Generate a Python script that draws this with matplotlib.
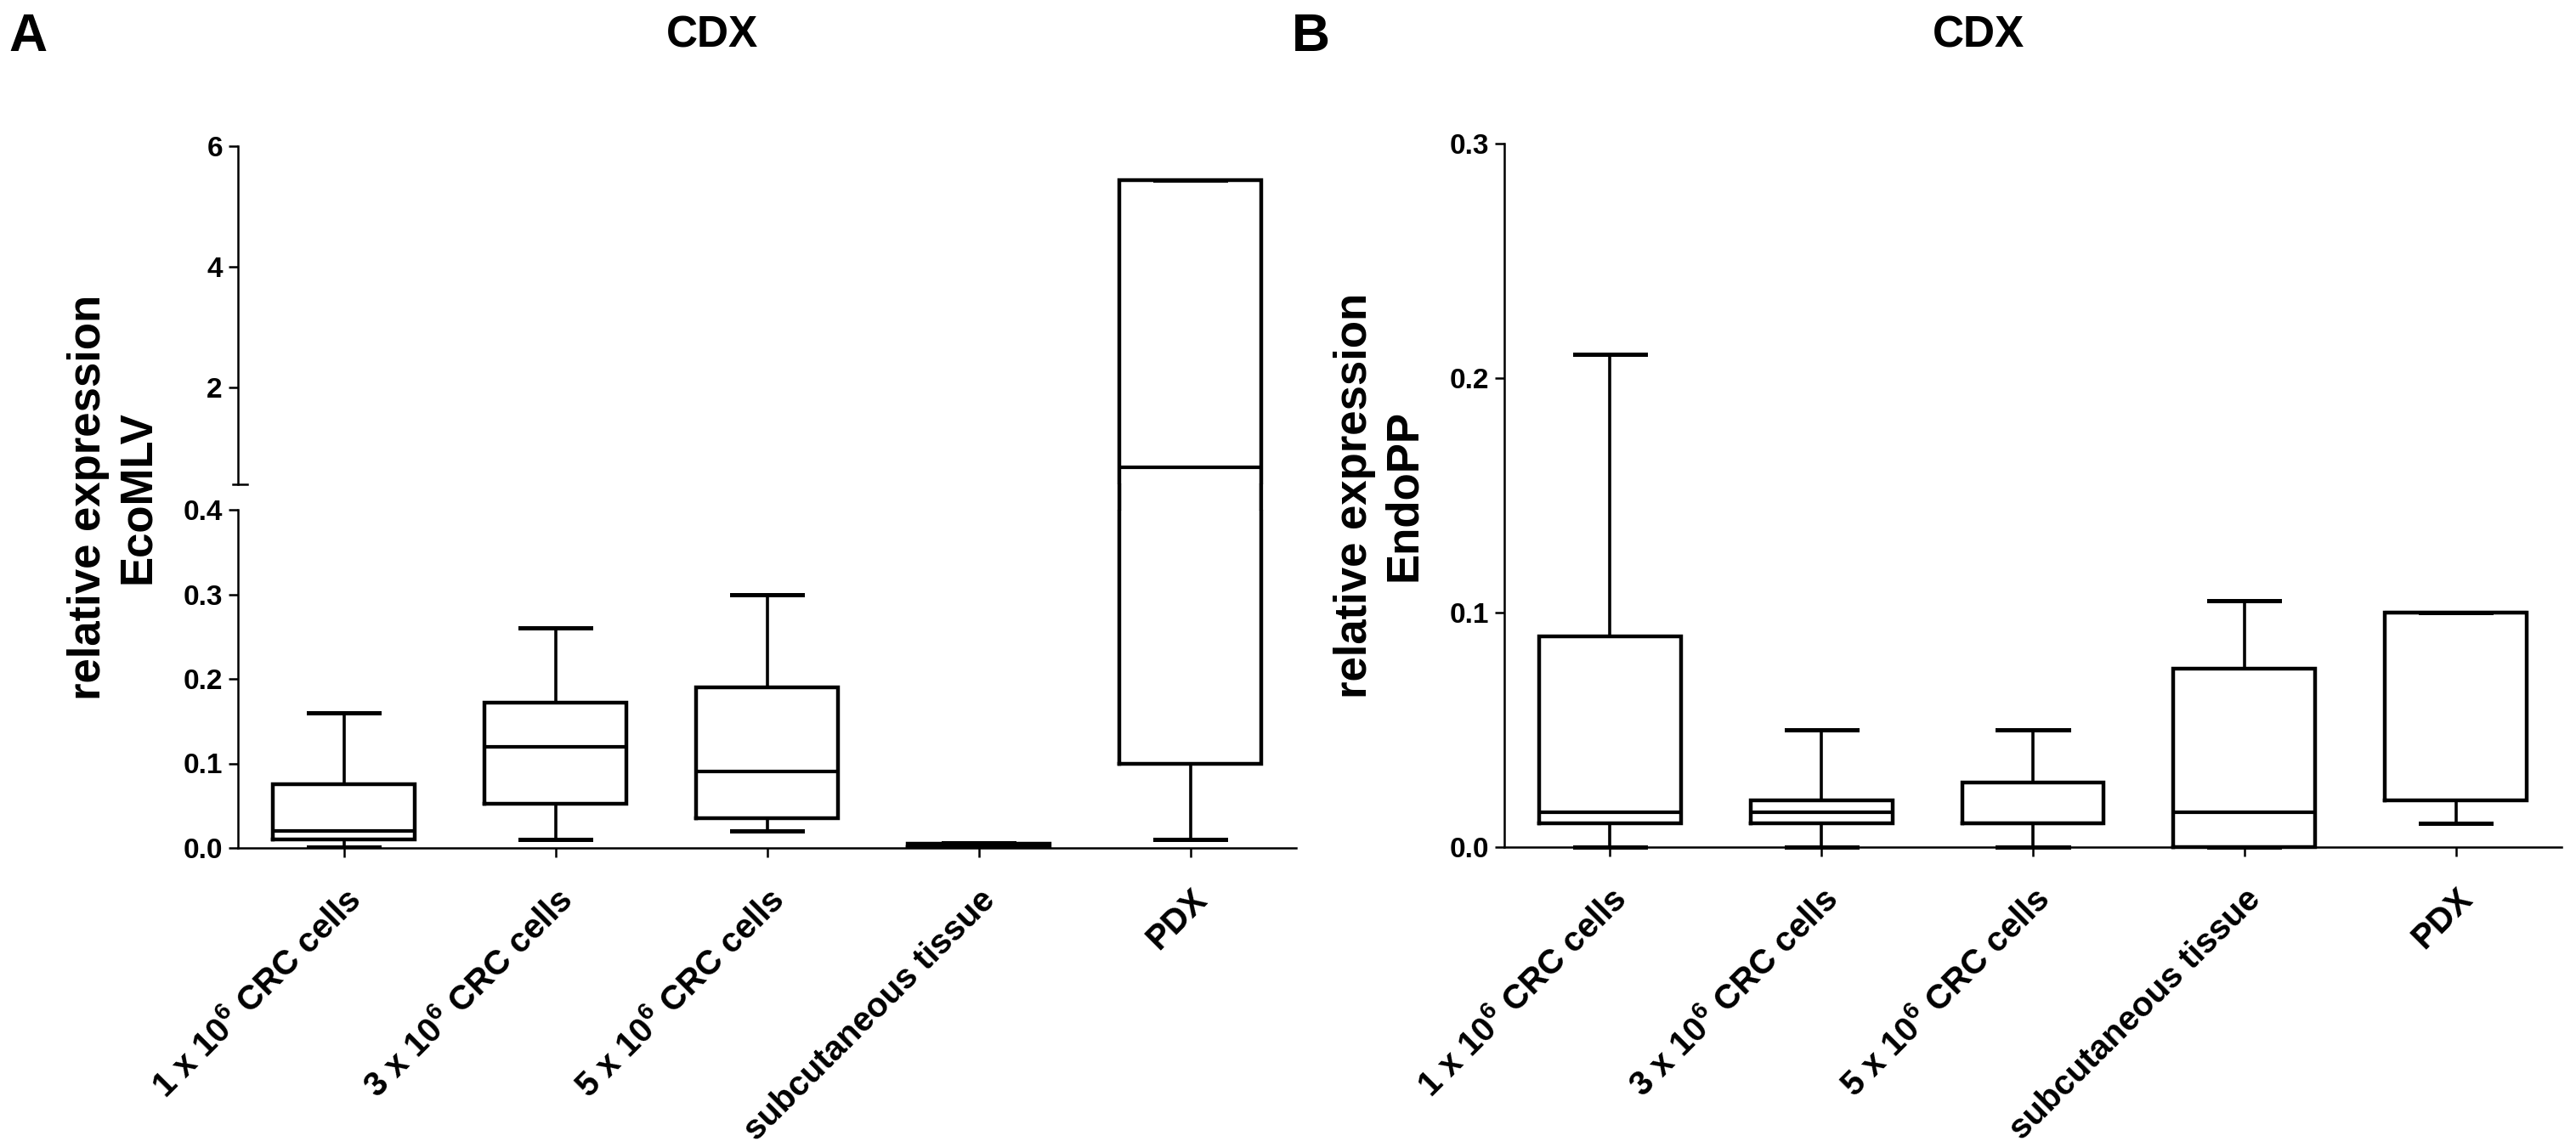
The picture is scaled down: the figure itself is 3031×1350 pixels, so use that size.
import matplotlib
matplotlib.use("Agg")
import matplotlib.pyplot as plt
from matplotlib.patches import ConnectionPatch
from matplotlib.ticker import FormatStrFormatter

plt.rcParams['font.family'] = ['Liberation Sans', 'DejaVu Sans']
plt.rcParams['font.weight'] = 'bold'
plt.rcParams['mathtext.default'] = 'regular'

# categories shared by both panels
groups = ['1 x 10$^{6}$ CRC cells', '3 x 10$^{6}$ CRC cells', '5 x 10$^{6}$ CRC cells',
          'subcutaneous tissue', 'PDX']

# panel A: EcoMLV (min, q1, median, q3, max)
eco_min = [0.001, 0.010, 0.020, 0.000, 0.010]
eco_q1 = [0.010, 0.052, 0.035, 0.001, 0.100]
eco_med = [0.020, 0.120, 0.090, 0.003, 0.680]
eco_q3 = [0.075, 0.172, 0.190, 0.005, 5.440]
eco_max = [0.160, 0.260, 0.300, 0.006, 5.440]

# panel B: EndoPP
endo_min = [0.000, 0.000, 0.000, 0.000, 0.010]
endo_q1 = [0.010, 0.010, 0.010, 0.000, 0.020]
endo_med = [0.015, 0.015, 0.010, 0.015, 0.100]
endo_q3 = [0.090, 0.020, 0.0275, 0.076, 0.100]
endo_max = [0.210, 0.050, 0.050, 0.105, 0.100]

eco_break = 0.4  # segmented axis: 0-0.4 below, 0.4-6 above

W, H = 3031, 1350
pos = [1, 2, 3, 4, 5]
box_w = 0.67


def frame(x0, x1, y0, y1):
    # pixel box -> figure fraction
    return [x0 / W, 1 - y1 / H, (x1 - x0) / W, (y1 - y0) / H]


def make_stats(lo, q1, med, q3, hi):
    return [dict(whislo=a, q1=b, med=c, q3=d, whishi=e, fliers=[])
            for a, b, c, d, e in zip(lo, q1, med, q3, hi)]


def draw_boxes(ax, st, clip=True):
    art = ax.bxp(st, positions=pos, widths=box_w, capwidths=box_w / 2,
                 showfliers=False, manage_ticks=False,
                 boxprops=dict(color='black', linewidth=3.2, solid_joinstyle='miter'),
                 whiskerprops=dict(color='black', linewidth=2.6),
                 capprops=dict(color='black', linewidth=3.6),
                 medianprops=dict(color='black', linewidth=3.0))
    if not clip:
        for lines in art.values():
            for l in lines:
                l.set_clip_on(False)


def style(ax):
    for s in ['top', 'right']:
        ax.spines[s].set_visible(False)
    for s in ['left', 'bottom']:
        ax.spines[s].set_linewidth(1.8)
    ax.tick_params(direction='out', length=8, width=1.8, labelsize=24, pad=5)
    ax.set_xlim(0.5, 5.5)


def xlabels(ax):
    ax.set_xticks(pos)
    ax.set_xticklabels(groups, rotation=45, ha='right', va='top',
                       rotation_mode='anchor', fontsize=29)
    ax.tick_params(axis='x', pad=22)


fig = plt.figure(figsize=(W / 100, H / 100), dpi=100)

# ---- panel A (broken y axis) ----
ax_top = fig.add_axes(frame(280, 1525, 172, 570))
ax_bot = fig.add_axes(frame(280, 1525, 600, 998))
eco = make_stats(eco_min, eco_q1, eco_med, eco_q3, eco_max)
draw_boxes(ax_top, eco)
draw_boxes(ax_bot, eco)

style(ax_top)
ax_top.spines['bottom'].set_visible(False)
ax_top.tick_params(axis='x', bottom=False, labelbottom=False)
ax_top.set_ylim(eco_break, 6)
ax_top.set_yticks([2, 4, 6])
ax_top.yaxis.set_major_formatter(FormatStrFormatter('%d'))
ax_top.plot([-0.005, 0.009], [0, 0], transform=ax_top.transAxes,
            color='black', lw=1.8, clip_on=False)

style(ax_bot)
ax_bot.set_ylim(0, eco_break)
ax_bot.set_yticks([0, 0.1, 0.2, 0.3, 0.4])
ax_bot.yaxis.set_major_formatter(FormatStrFormatter('%.1f'))
xlabels(ax_bot)

# box edges that cross the gap between segments
for p, lo, hi in zip(pos, eco_q1, eco_q3):
    if lo < eco_break < hi:
        for x in (p - box_w / 2, p + box_w / 2):
            con = ConnectionPatch(xyA=(x, eco_break), coordsA=ax_bot.transData,
                                  xyB=(x, eco_break), coordsB=ax_top.transData,
                                  color='black', lw=3.2)
            fig.add_artist(con)

# ---- panel B ----
ax_b = fig.add_axes(frame(1770, 3014, 169, 997))
draw_boxes(ax_b, make_stats(endo_min, endo_q1, endo_med, endo_q3, endo_max), clip=False)
style(ax_b)
ax_b.set_ylim(0, 0.3)
ax_b.set_yticks([0, 0.1, 0.2, 0.3])
ax_b.yaxis.set_major_formatter(FormatStrFormatter('%.1f'))
xlabels(ax_b)

# ---- texts ----
fig.text(133 / W, 1 - 585 / H, 'relative expression\nEcoMLV', rotation=90,
         ha='center', va='center', multialignment='center', fontsize=38)
fig.text(1623 / W, 1 - 583 / H, 'relative expression\nEndoPP', rotation=90,
         ha='center', va='center', multialignment='center', fontsize=38)
fig.text(838 / W, 1 - 42 / H, 'CDX', ha='center', va='center', fontsize=37)
fig.text(2328 / W, 1 - 42 / H, 'CDX', ha='center', va='center', fontsize=37)
fig.text(10 / W, 1 - 43 / H, 'A', ha='left', va='center', fontsize=45)
fig.text(1520 / W, 1 - 43 / H, 'B', ha='left', va='center', fontsize=45)

fig.savefig('out.png', dpi=100)
